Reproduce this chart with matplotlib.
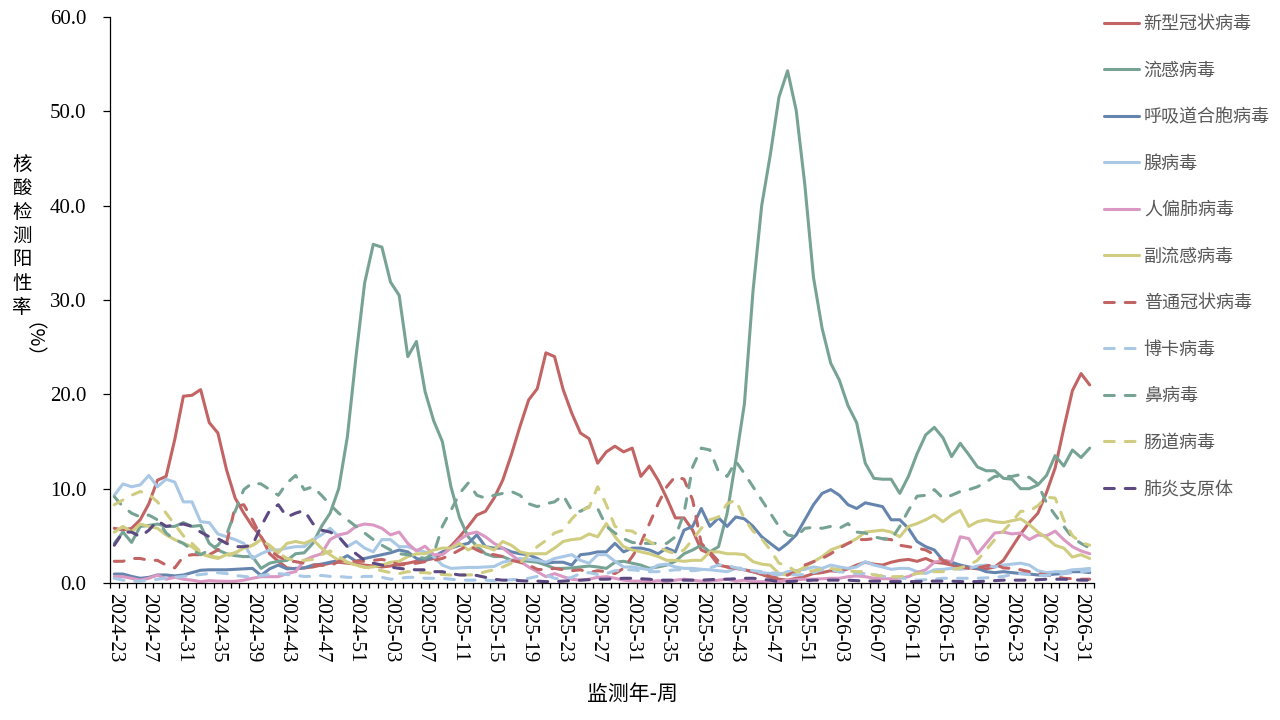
import numpy as np
import matplotlib.pyplot as plt
from matplotlib.ticker import FormatStrFormatter

plt.rcParams['font.family'] = ['Liberation Serif', 'Noto Sans CJK SC', 'DejaVu Sans']

# week categories 2024-23 ... 2026-32
weeks = ([f'2024-{w:02d}' for w in range(23, 53)] +
         [f'2025-{w:02d}' for w in range(1, 53)] +
         [f'2026-{w:02d}' for w in range(1, 33)])

covid = [5.8, 5.6, 5.8, 6.7, 8.4, 10.9, 11.3, 15.2, 19.8, 19.9, 20.5, 17.0, 15.9, 12.0, 9.0, 7.4, 6.0, 4.9, 3.1, 2.3,
         1.6, 1.5, 1.6, 1.7, 1.9, 2.1, 2.2, 2.1, 2.0, 1.9, 1.8, 1.7, 1.8, 2.0, 2.1, 2.3, 2.4, 2.6, 3.1, 3.9,
         4.9, 6.0, 7.2, 7.6, 9.0, 10.9, 13.6, 16.6, 19.4, 20.6, 24.4, 24.0, 20.5, 18.0, 15.9, 15.3, 12.7, 13.9, 14.5, 13.9,
         14.3, 11.3, 12.4, 10.9, 9.0, 6.9, 6.9, 5.6, 3.5, 3.1, 1.9, 1.7, 1.55, 1.4, 1.2, 0.9, 0.6, 0.4, 0.3, 0.5,
         0.7, 1.0, 1.1, 1.3, 1.2, 1.5, 1.9, 2.2, 2.0, 1.9, 2.2, 2.4, 2.5, 2.3, 2.6, 2.2, 2.1, 1.9, 1.7, 1.6,
         1.5, 1.5, 1.7, 2.4, 3.8, 5.2, 6.4, 7.4, 9.6, 12.2, 16.4, 20.4, 22.2, 21.0]
flu = [4.2, 5.4, 4.3, 6.0, 6.1, 6.25, 6.0, 6.0, 6.4, 6.0, 6.1, 4.2, 3.5, 3.1, 2.9, 2.8, 2.8, 1.55, 2.1, 2.3,
       2.4, 3.1, 3.2, 4.2, 6.0, 7.4, 10.0, 15.5, 24.0, 31.8, 35.9, 35.6, 31.9, 30.5, 24.0, 25.6, 20.3, 17.2, 15.0, 10.2,
       6.9, 4.9, 3.9, 3.1, 2.8, 2.8, 2.4, 2.4, 2.3, 2.2, 1.9, 1.55, 1.55, 1.6, 1.7, 1.8, 1.7, 1.55, 2.2, 2.3,
       2.1, 1.9, 1.55, 1.7, 1.9, 2.3, 3.1, 3.5, 4.0, 3.3, 3.85, 7.4, 13.0, 19.0, 31.0, 40.0, 45.4, 51.5, 54.3, 50.1,
       42.2, 32.4, 27.0, 23.3, 21.5, 18.8, 17.0, 12.7, 11.1, 11.0, 11.0, 9.5, 11.3, 13.7, 15.7, 16.5, 15.4, 13.4, 14.8, 13.6,
       12.3, 11.9, 11.9, 11.1, 11.0, 10.0, 10.0, 10.4, 11.4, 13.5, 12.4, 14.1, 13.3, 14.3]
rsv = [0.95, 0.95, 0.7, 0.5, 0.6, 0.85, 0.85, 0.75, 0.85, 1.1, 1.35, 1.4, 1.4, 1.4, 1.45, 1.5, 1.55, 0.8, 1.5, 1.9,
       1.5, 1.55, 1.6, 1.9, 2.0, 2.2, 2.4, 2.9, 2.3, 2.6, 2.8, 3.0, 3.2, 3.5, 3.3, 2.6, 2.4, 2.8, 3.3, 3.7,
       4.0, 4.2, 5.1, 3.85, 3.7, 3.7, 3.3, 3.1, 3.0, 2.6, 2.1, 2.2, 2.2, 1.9, 3.0, 3.1, 3.3, 3.3, 4.2, 3.3,
       3.7, 3.7, 3.5, 3.1, 3.7, 3.3, 5.6, 6.0, 7.9, 6.0, 6.9, 6.0, 7.0, 6.8, 6.0, 4.9, 4.2, 3.5, 4.2, 5.1,
       6.7, 8.3, 9.5, 9.9, 9.3, 8.3, 7.9, 8.5, 8.3, 8.1, 6.7, 6.7, 5.8, 4.4, 3.85, 3.5, 2.4, 2.2, 1.9, 1.7,
       1.55, 1.2, 1.1, 1.2, 1.1, 1.0, 0.95, 0.85, 0.85, 0.95, 1.0, 1.2, 1.2, 1.1]
adeno = [9.3, 10.5, 10.2, 10.4, 11.4, 10.2, 11.0, 10.7, 8.6, 8.6, 6.5, 6.4, 5.2, 4.9, 4.6, 4.2, 2.6, 3.1, 3.5, 3.5,
         3.7, 3.85, 3.85, 4.6, 5.1, 5.8, 4.9, 3.85, 4.4, 3.7, 3.3, 4.6, 4.6, 3.85, 3.85, 3.5, 3.3, 2.8, 1.9, 1.55,
         1.6, 1.65, 1.65, 1.7, 1.75, 2.2, 2.4, 2.6, 2.5, 2.4, 2.2, 2.6, 2.8, 3.0, 2.4, 2.1, 3.0, 3.0, 2.3, 1.7,
         1.7, 1.55, 1.4, 1.9, 2.0, 1.7, 1.55, 1.55, 1.45, 1.4, 1.3, 1.2, 1.55, 1.4, 1.2, 1.1, 1.0, 0.85, 1.2, 1.3,
         1.45, 1.7, 1.55, 1.9, 1.7, 1.55, 1.7, 2.26, 1.9, 1.7, 1.45, 1.55, 1.55, 1.2, 1.0, 1.4, 1.45, 1.55, 1.45, 1.55,
         1.8, 1.9, 1.7, 1.9, 2.0, 2.1, 1.9, 1.3, 1.1, 1.2, 1.2, 1.4, 1.45, 1.55]
hmpv = [0.67, 0.67, 0.5, 0.3, 0.5, 0.85, 0.4, 0.6, 0.4, 0.3, 0.14, 0.25, 0.2, 0.18, 0.18, 0.3, 0.5, 0.67, 0.67, 0.67,
        1.0, 1.2, 2.4, 2.8, 3.1, 4.6, 5.1, 5.3, 6.0, 6.25, 6.15, 5.8, 5.1, 5.4, 4.2, 3.4, 3.9, 3.0, 3.0, 3.7,
        4.6, 5.2, 5.4, 4.9, 4.2, 3.7, 3.0, 2.3, 1.7, 1.2, 0.67, 1.0, 0.67, 0.4, 0.3, 0.4, 0.6, 0.67, 0.5, 0.3,
        0.2, 0.2, 0.14, 0.25, 0.14, 0.3, 0.4, 0.3, 0.2, 0.2, 0.3, 0.4, 0.2, 0.3, 0.14, 0.14, 0.2, 0.14, 0.3, 0.35,
        0.4, 0.4, 0.45, 0.5, 0.5, 0.67, 0.75, 0.67, 0.5, 0.45, 0.45, 0.5, 0.67, 1.1, 1.4, 2.2, 2.4, 2.26, 4.9, 4.7,
        3.1, 4.2, 5.3, 5.4, 5.2, 5.3, 4.6, 5.1, 5.0, 5.5, 4.6, 3.85, 3.4, 3.1]
parainf = [5.4, 6.0, 5.4, 6.25, 6.0, 5.8, 5.1, 4.6, 4.2, 3.85, 3.1, 2.8, 2.6, 3.0, 3.2, 3.7, 4.0, 4.6, 3.85, 3.2,
           4.2, 4.4, 4.2, 4.6, 3.7, 3.0, 2.4, 2.2, 1.9, 1.65, 1.7, 1.9, 2.2, 2.3, 2.8, 3.1, 3.1, 3.5, 3.7, 3.7,
           4.2, 3.5, 4.0, 3.85, 3.5, 4.4, 4.0, 3.3, 3.1, 3.1, 3.1, 3.7, 4.4, 4.6, 4.7, 5.2, 4.9, 6.3, 4.9, 3.85,
           3.5, 3.3, 3.1, 2.8, 2.4, 2.4, 2.3, 2.4, 2.4, 3.3, 3.3, 3.1, 3.1, 3.0, 2.26, 2.0, 1.9, 1.0, 0.85, 1.2,
           1.7, 2.26, 2.8, 3.5, 3.85, 4.2, 4.7, 5.4, 5.5, 5.6, 5.4, 4.9, 6.0, 6.3, 6.7, 7.2, 6.5, 7.2, 7.7, 6.0,
           6.5, 6.7, 6.5, 6.4, 6.6, 6.8, 6.2, 5.4, 4.8, 4.0, 3.7, 2.75, 3.0, 2.6]
hcov = [2.3, 2.3, 2.6, 2.6, 2.4, 2.4, 1.9, 1.6, 2.8, 3.0, 3.0, 3.0, 3.5, 4.2, 8.1, 8.3, 6.7, 4.9, 3.5, 2.8,
        2.4, 2.26, 2.1, 1.9, 1.9, 1.8, 2.3, 2.4, 2.3, 2.3, 2.4, 2.5, 2.3, 1.9, 2.0, 2.1, 2.26, 2.4, 2.6, 3.0,
        3.5, 4.0, 3.5, 3.1, 3.0, 2.8, 2.4, 2.2, 1.9, 1.45, 1.4, 1.55, 1.4, 1.3, 1.4, 1.1, 1.3, 1.2, 1.0, 1.55,
        2.8, 4.2, 6.3, 8.4, 10.2, 11.3, 11.0, 8.8, 4.2, 3.3, 2.3, 1.7, 1.55, 1.4, 1.2, 1.0, 0.67, 0.5, 0.85, 1.2,
        1.9, 2.26, 2.6, 3.1, 3.7, 4.2, 4.6, 4.6, 4.7, 4.7, 4.6, 4.0, 3.85, 3.7, 3.5, 3.0, 2.4, 2.0, 1.7, 1.55,
        1.6, 1.8, 2.0, 1.6, 1.55, 1.4, 1.2, 1.0, 0.85, 0.7, 0.5, 0.45, 0.4, 0.4]
boca = [0.5, 0.3, 0.2, 0.2, 0.3, 0.4, 0.5, 0.6, 0.7, 0.8, 0.9, 1.0, 1.1, 1.0, 0.8, 0.7, 0.6, 0.8, 0.9, 1.0,
        0.9, 0.8, 0.7, 0.7, 0.8, 0.7, 0.7, 0.6, 0.6, 0.7, 0.7, 0.6, 0.4, 0.5, 0.6, 0.6, 0.5, 0.5, 0.5, 0.4,
        0.3, 0.3, 0.3, 0.3, 0.25, 0.3, 0.35, 0.4, 0.5, 0.7, 0.85, 0.5, 0.4, 0.6, 1.0, 1.1, 0.9, 1.0, 1.3, 1.4,
        1.4, 1.3, 1.2, 1.2, 1.3, 1.4, 1.4, 1.3, 1.4, 1.6, 1.9, 1.9, 1.6, 1.55, 1.3, 1.2, 1.1, 1.0, 0.9, 0.85,
        0.9, 1.1, 1.4, 1.4, 1.2, 1.1, 1.0, 1.0, 0.9, 0.7, 0.67, 0.6, 0.4, 0.3, 0.35, 0.4, 0.5, 0.5, 0.5, 0.5,
        0.5, 0.55, 0.6, 0.7, 0.9, 1.0, 0.9, 0.8, 0.8, 0.9, 1.0, 1.1, 1.2, 1.3]
rhino = [9.15, 8.1, 7.4, 7.0, 7.2, 6.7, 5.3, 4.6, 4.2, 3.5, 3.0, 3.5, 4.0, 5.1, 7.6, 9.9, 10.6, 10.5, 9.9, 9.3,
         10.6, 11.4, 9.9, 10.2, 9.3, 8.3, 7.4, 6.7, 6.0, 5.3, 4.6, 4.0, 3.5, 3.1, 3.0, 2.8, 2.6, 3.1, 6.0, 7.7,
         9.5, 10.6, 9.3, 9.0, 9.3, 9.5, 9.7, 9.3, 8.4, 8.1, 8.4, 8.6, 9.3, 7.7, 7.6, 8.1, 7.9, 6.0, 5.3, 4.7,
         4.3, 4.2, 4.2, 4.2, 4.2, 4.9, 7.4, 12.3, 14.3, 14.1, 11.8, 11.3, 12.9, 11.6, 10.2, 8.8, 7.4, 6.0, 5.1, 4.9,
         5.8, 5.9, 5.8, 6.0, 5.8, 6.3, 5.4, 5.3, 4.9, 4.7, 4.6, 6.0, 7.7, 9.2, 9.3, 9.9, 9.0, 9.3, 9.7, 9.9,
         10.2, 10.7, 11.3, 11.3, 11.3, 11.5, 11.2, 10.5, 8.5, 7.2, 6.0, 4.8, 4.2, 3.7]
entero = [8.3, 8.8, 9.3, 9.7, 9.4, 8.6, 7.4, 6.2, 5.0, 4.2, 3.3, 2.9, 2.7, 2.8, 3.2, 3.6, 4.0, 4.5, 4.0, 3.2,
          2.6, 2.4, 2.4, 2.5, 3.0, 3.4, 2.8, 2.2, 1.9, 1.7, 1.5, 1.3, 1.1, 1.0, 1.2, 1.1, 1.1, 1.0, 0.9, 0.85,
          0.85, 0.85, 0.9, 1.2, 1.4, 1.7, 2.1, 2.1, 3.0, 3.85, 4.5, 5.3, 5.6, 6.8, 7.7, 8.0, 10.2, 8.3, 6.0, 5.6,
          5.5, 4.9, 4.4, 3.85, 3.4, 3.1, 3.5, 4.6, 5.8, 6.7, 7.0, 8.4, 8.8, 6.8, 5.5, 4.7, 3.5, 2.1, 1.8, 1.2,
          1.2, 1.3, 1.5, 1.55, 1.4, 1.3, 1.2, 1.2, 0.85, 0.75, 0.67, 0.67, 0.8, 1.0, 1.1, 1.2, 1.2, 1.4, 1.6, 1.9,
          2.4, 3.5, 4.6, 5.5, 6.5, 7.6, 7.6, 8.2, 9.1, 9.0, 6.7, 5.0, 4.3, 4.0]
myco = [4.0, 5.4, 5.4, 4.9, 5.6, 6.6, 6.0, 6.15, 6.25, 6.0, 5.4, 4.9, 4.7, 4.2, 3.85, 3.85, 4.0, 6.0, 7.7, 8.3,
        7.0, 7.4, 7.7, 6.3, 5.6, 5.4, 4.9, 3.85, 3.1, 2.4, 2.1, 1.9, 1.7, 1.55, 1.45, 1.4, 1.4, 1.2, 1.2, 1.0,
        0.85, 0.85, 0.8, 0.6, 0.4, 0.3, 0.3, 0.25, 0.2, 0.2, 0.15, 0.15, 0.2, 0.25, 0.3, 0.35, 0.4, 0.4, 0.45, 0.5,
        0.5, 0.45, 0.4, 0.3, 0.3, 0.3, 0.3, 0.3, 0.3, 0.35, 0.4, 0.4, 0.45, 0.5, 0.5, 0.4, 0.3, 0.15, 0.15, 0.2,
        0.25, 0.3, 0.3, 0.3, 0.3, 0.3, 0.25, 0.2, 0.2, 0.2, 0.15, 0.15, 0.15, 0.15, 0.2, 0.2, 0.2, 0.2, 0.15, 0.15,
        0.15, 0.2, 0.25, 0.3, 0.3, 0.3, 0.3, 0.35, 0.4, 0.4, 0.4, 0.35, 0.3, 0.3]

names = ['新型冠状病毒', '流感病毒', '呼吸道合胞病毒', '腺病毒', '人偏肺病毒', '副流感病毒',
         '普通冠状病毒', '博卡病毒', '鼻病毒', '肠道病毒', '肺炎支原体']
series = [covid, flu, rsv, adeno, hmpv, parainf, hcov, boca, rhino, entero, myco]
colors = ['#C36464', '#77A394', '#6685AE', '#A9C8E6', '#DA98C3', '#D0CD80',
          '#C36464', '#A9C8E6', '#77A394', '#D0CD80', '#5E4A82']
dashed = [False] * 6 + [True] * 5

fig = plt.figure(figsize=(12.8, 7.2), dpi=100)
ax = fig.add_axes([110 / 1280, 1 - 583 / 720, 984 / 1280, 566 / 720])

x = np.arange(len(weeks))
for name, vals, c, d in zip(names, series, colors, dashed):
    if d:
        ax.plot(x, vals, color=c, lw=2.2, label=name, dashes=(3.2, 3.6),
                dash_capstyle='round', dash_joinstyle='round')
    else:
        ax.plot(x, vals, color=c, lw=2.2, label=name,
                solid_capstyle='round', solid_joinstyle='round')

ax.set_xlim(-0.5, len(weeks) - 0.5)
ax.set_ylim(0, 60)
ax.set_yticks(np.arange(0, 61, 10))
ax.yaxis.set_major_formatter(FormatStrFormatter('%.1f'))
ax.tick_params(axis='y', direction='out', length=5, width=0.9, pad=12, labelsize=15)

ax.set_xticks(x[::4])
ax.set_xticklabels(weeks[::4], rotation=-90, fontsize=15)
ax.set_xticks(np.arange(-0.5, len(weeks), 1), minor=True)
ax.tick_params(axis='x', which='major', length=0, pad=7)
ax.tick_params(axis='x', which='minor', direction='out', length=3.8, width=0.9)

for s in ['top', 'right']:
    ax.spines[s].set_visible(False)
for s in ['left', 'bottom']:
    ax.spines[s].set_linewidth(0.9)

fig.text(632 / 1280, 1 - 694 / 720, '监测年-周', ha='center', va='center',
         fontsize=15, family=['Noto Sans CJK SC'])
fig.text(22 / 1280, 1 - 236 / 720, '核\n酸\n检\n测\n阳\n性\n率', ha='center', va='center',
         fontsize=14, linespacing=1.18, family=['Noto Sans CJK SC'])
fig.text(22 / 1280, 1 - 350 / 720, '（%）', ha='center', va='center', rotation=-90,
         fontsize=14, family=['Noto Sans CJK SC', 'DejaVu Sans'])

leg = ax.legend(loc='upper left', bbox_to_anchor=(1104 / 1280, 1 - 15 / 720),
                bbox_transform=fig.transFigure, frameon=False,
                handlelength=1.95, handletextpad=0.25, labelspacing=1.58,
                borderpad=0, borderaxespad=0, prop={'family': ['Noto Sans CJK SC'], 'size': 13})
for t in leg.get_texts():
    t.set_color('#595959')

fig.savefig('out.png', dpi=100)
